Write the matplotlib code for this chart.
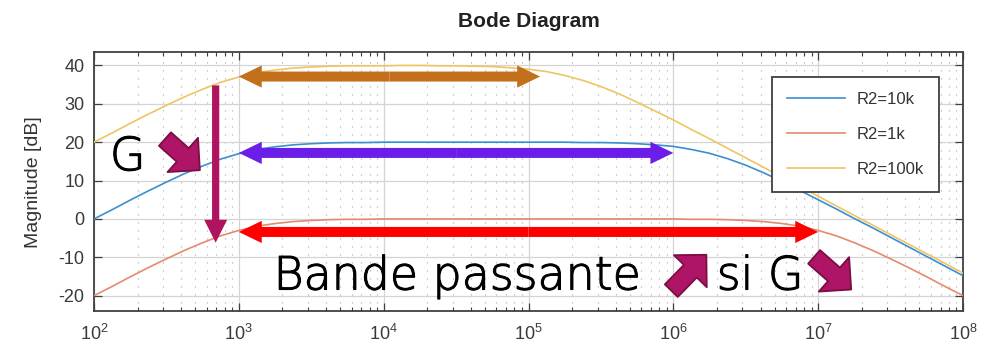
import matplotlib
matplotlib.use("Agg")
import matplotlib.pyplot as plt
import matplotlib.patheffects as pe
from matplotlib.patches import FancyArrowPatch, ArrowStyle
from matplotlib.ticker import LogLocator, FixedLocator

# === 1. Données lues sur le diagramme (pas de 1/8 de décade) ===
exposants = [2.0, 2.125, 2.25, 2.375, 2.5, 2.625, 2.75, 2.875,
             3.0, 3.125, 3.25, 3.375, 3.5, 3.625, 3.75, 3.875,
             4.0, 4.125, 4.25, 4.375, 4.5, 4.625, 4.75, 4.875,
             5.0, 5.125, 5.25, 5.375, 5.5, 5.625, 5.75, 5.875,
             6.0, 6.125, 6.25, 6.375, 6.5, 6.625, 6.75, 6.875,
             7.0, 7.125, 7.25, 7.375, 7.5, 7.625, 7.75, 7.875, 8.0]
freq = [10 ** e for e in exposants]

mag_10k = [0.0, 2.4, 4.9, 7.3, 9.6, 11.8, 13.8, 15.6,
           17.0, 18.1, 18.8, 19.3, 19.6, 19.8, 19.9, 19.9,
           20.0, 20.0, 20.0, 20.0, 20.0, 20.0, 20.0, 20.0,
           20.0, 20.0, 20.0, 19.9, 19.9, 19.8, 19.6, 19.3,
           18.9, 18.1, 17.1, 15.7, 14.0, 12.0, 9.8, 7.4,
           5.0, 2.6, 0.1, -2.3, -4.8, -7.3, -9.8, -12.3, -14.8]

mag_1k = [-20.0, -17.6, -15.1, -12.7, -10.4, -8.2, -6.2, -4.4,
          -3.0, -1.9, -1.2, -0.7, -0.4, -0.2, -0.1, -0.1,
          0.0, 0.0, 0.0, 0.0, 0.0, 0.0, 0.0, 0.0,
          0.0, 0.0, 0.0, 0.0, 0.0, 0.0, 0.0, 0.0,
          0.0, -0.1, -0.1, -0.2, -0.4, -0.7, -1.2, -1.9,
          -3.0, -4.4, -6.2, -8.2, -10.4, -12.7, -15.1, -17.6, -20.0]

mag_100k = [20.0, 22.4, 24.9, 27.3, 29.6, 31.8, 33.8, 35.6,
            37.0, 38.1, 38.8, 39.3, 39.6, 39.8, 39.9, 39.9,
            39.9, 40.0, 40.0, 39.9, 39.9, 39.8, 39.7, 39.4,
            39.0, 38.4, 37.4, 36.1, 34.5, 32.6, 30.4, 28.1,
            25.8, 23.3, 20.9, 18.4, 15.9, 13.4, 10.9, 8.4,
            5.9, 3.4, 0.9, -1.6, -4.1, -6.6, -9.1, -11.6, -14.1]

series = [("R2=10k", mag_10k, "#3b8fd0"),
          ("R2=1k", mag_1k, "#e58a6c"),
          ("R2=100k", mag_100k, "#efc463")]

ticks_x = [1e2, 1e3, 1e4, 1e5, 1e6, 1e7, 1e8]
ticks_y = [-20, -10, 0, 10, 20, 30, 40]

plt.rcParams["font.family"] = ["Liberation Sans", "DejaVu Sans"]
plt.rcParams["axes.unicode_minus"] = False

# === 2. Figure ===
fig = plt.figure(figsize=(9.86, 3.49), dpi=100)
ax = fig.add_axes([94 / 986, 1 - 311 / 349, 869 / 986, 259 / 349])

for nom, mag, couleur in series:
    ax.semilogx(freq, mag, color=couleur, lw=1.2, label=nom, zorder=3)

ax.set_xlim(1e2, 1e8)
ax.set_ylim(-24, 43.5)
ax.xaxis.set_major_locator(FixedLocator(ticks_x))
ax.xaxis.set_minor_locator(LogLocator(base=10, subs=range(2, 10), numticks=20))
ax.yaxis.set_major_locator(FixedLocator(ticks_y))

# grille : traits pleins aux décades, pointillés aux sous-décades (axe x seulement)
ax.grid(which="major", color="#d4d4d4", lw=0.9, ls="-", zorder=0)
ax.grid(which="minor", axis="x", color="#a8a8a8", lw=0.8, ls=(0, (1, 6.2)), zorder=0)
ax.set_axisbelow(True)

ax.tick_params(which="both", direction="in", top=True, right=True,
               color="#404040", labelcolor="#3a3a3a", labelsize=13)
ax.tick_params(which="major", length=6, width=0.9)
ax.tick_params(which="minor", length=3, width=0.8)
ax.tick_params(axis="x", pad=9)
ax.tick_params(axis="y", pad=7)
for sp in ax.spines.values():
    sp.set_color("#404040")
    sp.set_linewidth(1.3)

ax.set_title("Bode Diagram", fontsize=15, fontweight="bold", color="#222222", pad=18)
fig.text(34 / 986, 1 - 182 / 349, "Magnitude [dB]", rotation=90,
         ha="center", va="center", fontsize=14, color="#333333")

leg = ax.legend(loc="upper right", bbox_to_anchor=(0.9724, 0.9035),
                borderaxespad=0, fontsize=12, handlelength=3.5,
                handletextpad=0.7, labelspacing=1.2, borderpad=0.9,
                fancybox=False, framealpha=1)
leg.get_frame().set_edgecolor("#404040")
leg.get_frame().set_linewidth(1.3)
for t in leg.get_texts():
    t.set_color("#333333")

# === 3. Annotations ===
def fleche(ax, depart, arrivee, couleur, queue, tete_l, tete_w, bord=None, lw=0):
    style = ArrowStyle.Simple(head_length=tete_l, head_width=tete_w, tail_width=queue)
    p = FancyArrowPatch(depart, arrivee, arrowstyle=style, mutation_scale=1,
                        shrinkA=0, shrinkB=0, fc=couleur,
                        ec=bord if bord else couleur, lw=lw, zorder=6,
                        clip_on=False)
    ax.add_patch(p)


def double_fleche(ax, x0, x1, y, couleur):
    xm = (x0 * x1) ** 0.5
    fleche(ax, (xm, y), (x0, y), couleur, 7.2, 16.5, 16)
    fleche(ax, (xm, y), (x1, y), couleur, 7.2, 16.5, 16)


double_fleche(ax, 1e3, 10 ** 5.08, 37.1, "#c46f1c")
double_fleche(ax, 1e3, 1e6, 17.2, "#6a1ee8")
double_fleche(ax, 1e3, 1e7, -3.4, "#ff0000")

# flèche verticale (G diminue)
fleche(ax, (10 ** 2.84, 34.8), (10 ** 2.84, -6.2), "#b0145f", 5.2, 16.5, 16.5)

# flèches "blocs"
bloc = dict(queue=13, tete_l=16.5, tete_w=33, bord="#7a0e45", lw=1.3)
fleche(ax, (10 ** 2.49, 20.8), (10 ** 2.731, 12.7), "#ae1566", **bloc)
fleche(ax, (10 ** 5.986, -18.7), (10 ** 6.228, -9.35), "#ae1566", **bloc)
fleche(ax, (10 ** 6.972, -9.9), (10 ** 7.228, -18.4), "#ae1566", **bloc)

texte = dict(fontsize=33, family=["DejaVu Sans"], fontweight=200,
             color="black", va="baseline", ha="left", zorder=7,
             path_effects=[pe.withStroke(linewidth=0.8, foreground="black")])
ax.text(10 ** 2.11, 12.7, "G", **texte)
ax.text(10 ** 3.24, -18.4, "Bande passante", **texte)
ax.text(10 ** 6.30, -18.4, "si G", **texte)

plt.savefig("out.png", dpi=100)
plt.close()
